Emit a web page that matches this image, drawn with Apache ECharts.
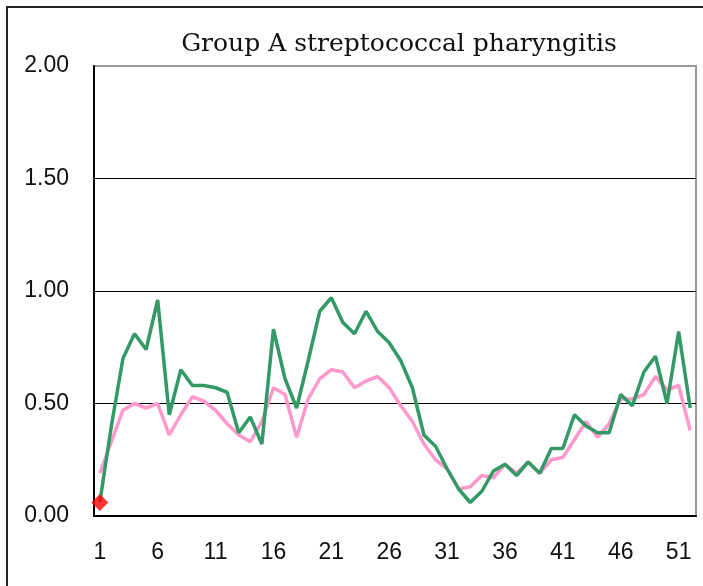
<!DOCTYPE html>
<html>
<head>
<meta charset="utf-8">
<script src="https://cdn.jsdelivr.net/npm/echarts@6/dist/echarts.min.js"></script>
<style>html,body{margin:0;padding:0;background:#fff;}#c{width:703px;height:586px;}</style>
</head>
<body>
<div id="c"></div>
<script>
const weeks = Array.from({length: 52}, (_, i) => String(i + 1));
const yTicks = [0, 0.5, 1.0, 1.5, 2.0];
const greenSeries = [0.06, 0.40, 0.70, 0.81, 0.74, 0.96, 0.45, 0.65, 0.58, 0.58,
  0.57, 0.55, 0.37, 0.44, 0.32, 0.83, 0.61, 0.48, 0.69, 0.91,
  0.97, 0.86, 0.81, 0.91, 0.82, 0.77, 0.69, 0.57, 0.36, 0.31,
  0.21, 0.12, 0.06, 0.11, 0.20, 0.23, 0.18, 0.24, 0.19, 0.30,
  0.30, 0.45, 0.40, 0.37, 0.37, 0.54, 0.49, 0.64, 0.71, 0.50, 0.82, 0.48];
const pinkSeries = [0.19, 0.33, 0.47, 0.50, 0.48, 0.50, 0.36, 0.45, 0.53, 0.51,
  0.47, 0.41, 0.36, 0.33, 0.42, 0.57, 0.54, 0.35, 0.52, 0.61,
  0.65, 0.64, 0.57, 0.60, 0.62, 0.57, 0.49, 0.42, 0.32, 0.25,
  0.21, 0.12, 0.13, 0.18, 0.17, 0.23, 0.19, 0.24, 0.19, 0.25,
  0.26, 0.34, 0.42, 0.35, 0.41, 0.52, 0.52, 0.54, 0.62, 0.56, 0.58, 0.38];
const currentWeek = [[0, 0.06]];

const chart = echarts.init(document.getElementById('c'), null, {renderer: 'canvas'});
chart.setOption({
  animation: false,
  backgroundColor: '#fff',
  title: {
    text: 'Group A streptococcal pharyngitis',
    left: 394, top: 27, textAlign: 'center',
    textStyle: {fontFamily: 'DejaVu Serif', fontWeight: 'normal', fontSize: 25, color: '#111'}
  },
  graphic: [{
    type: 'rect', shape: {x: 7, y: 7, width: 720, height: 620},
    style: {fill: 'none', stroke: '#222', lineWidth: 2}, silent: true, z: -1
  }],
  grid: {left: 94, right: 7, top: 66, bottom: 70, show: true, borderColor: '#999', borderWidth: 2, backgroundColor: 'transparent'},
  xAxis: {
    type: 'category', data: weeks, boundaryGap: true,
    axisLine: {lineStyle: {color: '#000', width: 2}},
    axisTick: {inside: true, length: 7, interval: 4, lineStyle: {color: '#000', width: 1}},
    axisLabel: {interval: 4, margin: 25, fontFamily: 'Liberation Sans', fontSize: 23, color: '#111'},
    splitLine: {show: false}
  },
  yAxis: {
    type: 'value', min: yTicks[0], max: yTicks[yTicks.length - 1], interval: 0.5,
    axisLine: {show: true, lineStyle: {color: '#000', width: 2}},
    axisTick: {show: false},
    axisLabel: {margin: 25, fontFamily: 'Liberation Sans', fontSize: 23, color: '#111', formatter: v => v.toFixed(2)},
    splitLine: {show: true, lineStyle: {color: ['#000', '#000', '#000', '#000', '#999'], width: 1}}
  },
  series: [
    {type: 'line', data: pinkSeries, symbol: 'none', lineStyle: {color: '#ff99cc', width: 3.5}, z: 2},
    {type: 'line', data: greenSeries, symbol: 'none', lineStyle: {color: '#339966', width: 3.5}, z: 3},
    {type: 'scatter', data: currentWeek, symbol: 'diamond', symbolSize: 17, itemStyle: {color: '#ff0000'}, z: 4}
  ]
});
</script>
</body>
</html>
